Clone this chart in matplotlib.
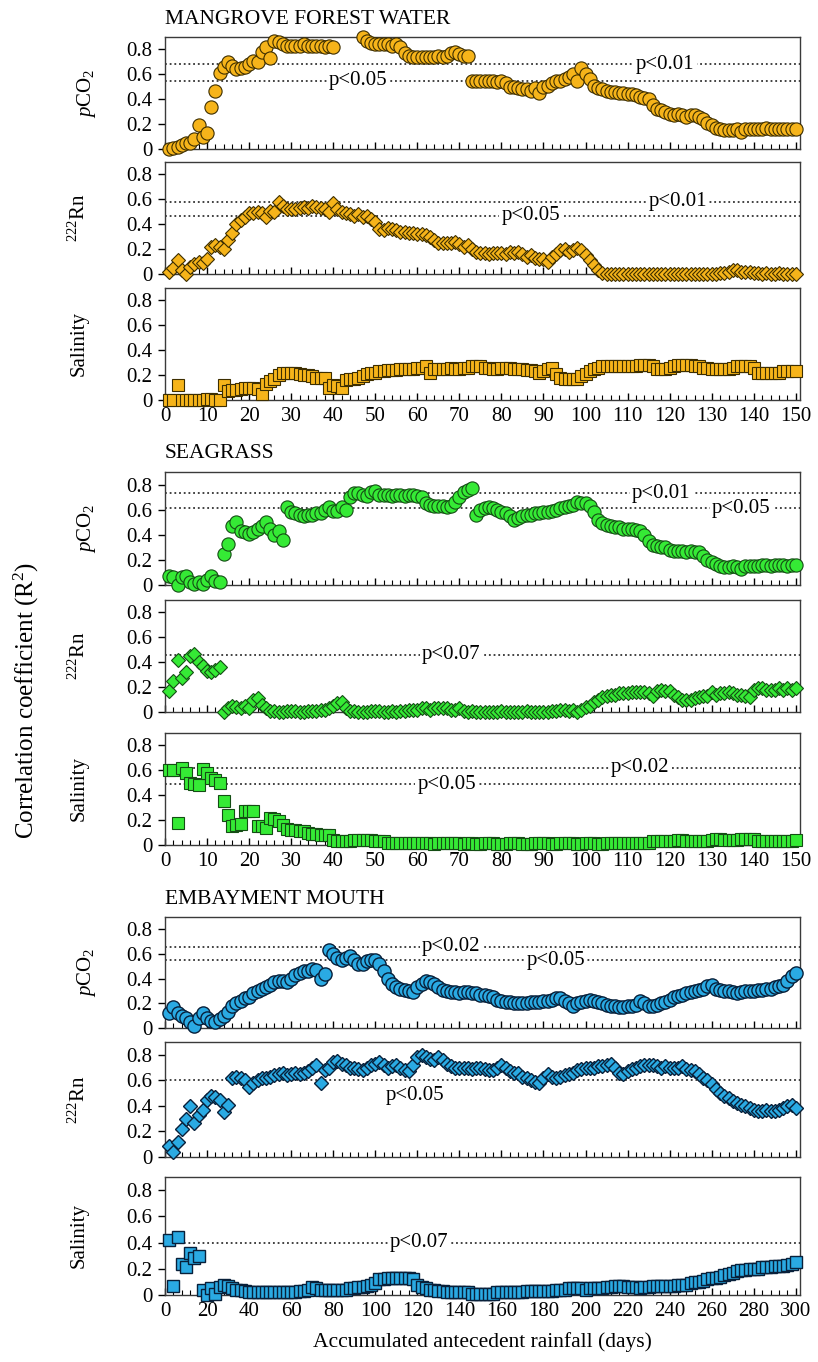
import numpy as np
import matplotlib
matplotlib.use('Agg')
import matplotlib.pyplot as plt
from matplotlib.ticker import MultipleLocator, FuncFormatter

plt.rcParams['font.family'] = ['Liberation Serif', 'DejaVu Serif']
plt.rcParams['mathtext.fontset'] = 'custom'
plt.rcParams['mathtext.rm'] = 'Liberation Serif'
plt.rcParams['mathtext.it'] = 'Liberation Serif:italic'

nan = np.nan

# days 1..150 (mangrove, seagrass) and 2..300 every 2nd day (embayment)
days_short = np.arange(1, 151)
days_long = np.arange(2, 301, 2)

# ---- MANGROVE FOREST WATER ----
mg_pco2 = [
    0.00, 0.01, 0.02, 0.03, 0.05, 0.05, 0.08, 0.19, 0.10, 0.13,
    0.34, 0.47, 0.61, 0.66, 0.70, 0.67, 0.64, 0.65, 0.66, 0.68,
    0.71, 0.70, 0.78, 0.82, 0.73, 0.87, 0.86, 0.84, 0.83, 0.83,
    0.83, 0.83, 0.84, 0.83, 0.83, 0.83, 0.83, 0.82, 0.83, 0.82,
    nan, nan, nan, nan, nan, nan, 0.90, 0.87, 0.85, 0.84,
    0.84, 0.84, 0.84, 0.83, 0.84, 0.82, 0.77, 0.75, 0.74, 0.74,
    0.74, 0.74, 0.74, 0.74, 0.75, 0.74, 0.75, 0.77, 0.78, 0.76,
    0.75, 0.75, 0.55, 0.55, 0.55, 0.55, 0.55, 0.55, 0.54, 0.55,
    0.53, 0.50, 0.50, 0.49, 0.48, 0.48, 0.47, 0.49, 0.45, 0.50,
    0.51, 0.53, 0.55, 0.55, 0.56, 0.58, 0.60, 0.55, 0.65, 0.60,
    0.56, 0.51, 0.49, 0.48, 0.47, 0.46, 0.46, 0.45, 0.45, 0.44,
    0.44, 0.43, 0.42, 0.41, 0.40, 0.35, 0.32, 0.31, 0.30, 0.28,
    0.27, 0.28, 0.27, 0.26, 0.27, 0.27, 0.26, 0.24, 0.21, 0.19,
    0.17, 0.16, 0.15, 0.15, 0.15, 0.16, 0.14, 0.16, 0.16, 0.16,
    0.16, 0.16, 0.17, 0.16, 0.16, 0.16, 0.16, 0.16, 0.16, 0.16,
]
mg_rn = [
    0.02, 0.05, 0.11, 0.03, 0.00, 0.06, 0.08, 0.10, 0.09, 0.12,
    0.22, 0.23, 0.22, 0.20, 0.27, 0.33, 0.40, 0.43, 0.46, 0.49,
    0.49, 0.50, 0.49, 0.46, 0.51, 0.50, 0.58, 0.55, 0.52, 0.52,
    0.52, 0.53, 0.54, 0.53, 0.55, 0.54, 0.53, 0.52, 0.50, 0.57,
    0.52, 0.50, 0.49, 0.48, 0.47, 0.48, 0.46, 0.47, 0.44, 0.42,
    0.36, 0.35, 0.37, 0.36, 0.35, 0.34, 0.34, 0.33, 0.33, 0.32,
    0.32, 0.31, 0.30, 0.27, 0.25, 0.25, 0.25, 0.25, 0.26, 0.24,
    0.22, 0.23, 0.20, 0.18, 0.17, 0.17, 0.16, 0.17, 0.17, 0.17,
    0.16, 0.18, 0.17, 0.18, 0.16, 0.14, 0.15, 0.13, 0.12, 0.12,
    0.10, 0.14, 0.16, 0.19, 0.20, 0.18, 0.19, 0.21, 0.19, 0.15,
    0.11, 0.07, 0.03, 0.01, 0.00, 0.00, 0.00, 0.00, 0.00, 0.00,
    0.00, 0.00, 0.00, 0.00, 0.00, 0.00, 0.00, 0.00, 0.00, 0.00,
    0.00, 0.00, 0.00, 0.00, 0.00, 0.00, 0.00, 0.00, 0.00, 0.00,
    0.00, 0.01, 0.01, 0.02, 0.03, 0.03, 0.02, 0.02, 0.02, 0.01,
    0.01, 0.00, 0.01, 0.00, 0.00, 0.01, 0.00, 0.00, 0.00, 0.00,
]
mg_sal = [
    0.00, 0.00, 0.12, 0.00, 0.00, 0.00, 0.00, 0.00, 0.00, 0.01,
    0.01, 0.00, 0.00, 0.12, 0.07, 0.08, 0.08, 0.09, 0.10, 0.10,
    0.10, 0.09, 0.05, 0.13, 0.15, 0.17, 0.20, 0.22, 0.22, 0.22,
    0.22, 0.21, 0.20, 0.20, 0.19, 0.18, 0.18, 0.18, 0.10, 0.12,
    0.11, 0.10, 0.16, 0.17, 0.17, 0.18, 0.19, 0.21, 0.22, 0.22,
    0.23, 0.23, 0.24, 0.24, 0.24, 0.25, 0.25, 0.25, 0.25, 0.26,
    0.26, 0.27, 0.22, 0.25, 0.25, 0.25, 0.25, 0.26, 0.25, 0.25,
    0.26, 0.26, 0.27, 0.27, 0.27, 0.26, 0.26, 0.25, 0.25, 0.26,
    0.26, 0.26, 0.25, 0.25, 0.25, 0.24, 0.24, 0.23, 0.22, 0.23,
    0.25, 0.26, 0.21, 0.18, 0.17, 0.17, 0.17, 0.17, 0.19, 0.21,
    0.23, 0.25, 0.26, 0.27, 0.27, 0.27, 0.27, 0.27, 0.27, 0.27,
    0.27, 0.27, 0.28, 0.28, 0.28, 0.27, 0.25, 0.25, 0.25, 0.26,
    0.27, 0.28, 0.28, 0.28, 0.28, 0.27, 0.27, 0.26, 0.26, 0.25,
    0.25, 0.25, 0.25, 0.25, 0.26, 0.27, 0.27, 0.27, 0.27, 0.26,
    0.22, 0.22, 0.22, 0.22, 0.22, 0.22, 0.23, 0.23, 0.23, 0.23,
]

# ---- SEAGRASS ----
sg_pco2 = [
    0.07, 0.06, 0.00, 0.06, 0.07, 0.02, 0.01, 0.02, 0.01, 0.04,
    0.07, 0.03, 0.02, 0.25, 0.33, 0.47, 0.50, 0.43, 0.42, 0.41,
    0.42, 0.45, 0.47, 0.50, 0.45, 0.40, 0.43, 0.36, 0.62, 0.58,
    0.57, 0.56, 0.55, 0.56, 0.56, 0.57, 0.57, 0.60, 0.62, 0.59,
    0.59, 0.62, 0.60, 0.70, 0.73, 0.73, 0.72, 0.71, 0.74, 0.75,
    0.72, 0.72, 0.72, 0.71, 0.72, 0.72, 0.71, 0.72, 0.72, 0.71,
    0.70, 0.65, 0.64, 0.63, 0.63, 0.63, 0.62, 0.63, 0.66, 0.70,
    0.74, 0.76, 0.77, 0.56, 0.60, 0.61, 0.62, 0.61, 0.60, 0.58,
    0.57, 0.55, 0.52, 0.53, 0.55, 0.56, 0.56, 0.57, 0.57, 0.58,
    0.58, 0.59, 0.60, 0.61, 0.62, 0.63, 0.64, 0.66, 0.65, 0.65,
    0.63, 0.58, 0.52, 0.49, 0.48, 0.47, 0.46, 0.46, 0.45, 0.45,
    0.45, 0.44, 0.43, 0.40, 0.35, 0.32, 0.31, 0.30, 0.30, 0.28,
    0.27, 0.27, 0.27, 0.26, 0.27, 0.26, 0.26, 0.23, 0.20, 0.18,
    0.17, 0.15, 0.14, 0.14, 0.15, 0.14, 0.13, 0.15, 0.15, 0.15,
    0.15, 0.16, 0.16, 0.15, 0.16, 0.16, 0.16, 0.15, 0.16, 0.16,
]
sg_rn = [
    0.17, 0.25, 0.42, 0.27, 0.32, 0.45, 0.47, 0.40, 0.37, 0.33,
    0.32, 0.34, 0.36, 0.00, 0.03, 0.05, 0.04, 0.03, 0.05, 0.03,
    0.10, 0.11, 0.06, 0.03, 0.01, 0.01, 0.00, 0.00, 0.01, 0.01,
    0.01, 0.00, 0.00, 0.01, 0.01, 0.01, 0.02, 0.02, 0.03, 0.05,
    0.07, 0.08, 0.03, 0.01, 0.01, 0.00, 0.00, 0.00, 0.01, 0.01,
    0.01, 0.00, 0.00, 0.01, 0.00, 0.01, 0.01, 0.02, 0.02, 0.02,
    0.03, 0.03, 0.02, 0.03, 0.03, 0.03, 0.03, 0.02, 0.02, 0.03,
    0.01, 0.00, 0.01, 0.00, 0.00, 0.00, 0.00, 0.00, 0.00, 0.01,
    0.00, 0.00, 0.00, 0.00, 0.00, 0.01, 0.00, 0.00, 0.00, 0.00,
    0.00, 0.01, 0.01, 0.02, 0.02, 0.01, 0.02, 0.00, 0.02, 0.04,
    0.05, 0.08, 0.10, 0.12, 0.13, 0.14, 0.14, 0.15, 0.15, 0.15,
    0.16, 0.16, 0.16, 0.16, 0.15, 0.13, 0.17, 0.18, 0.17, 0.17,
    0.14, 0.12, 0.10, 0.10, 0.10, 0.11, 0.12, 0.13, 0.13, 0.16,
    0.14, 0.15, 0.15, 0.16, 0.15, 0.14, 0.14, 0.13, 0.12, 0.18,
    0.19, 0.19, 0.18, 0.18, 0.18, 0.19, 0.18, 0.19, 0.18, 0.19,
]
sg_sal = [
    0.60, 0.60, 0.18, 0.62, 0.58, 0.50, 0.49, 0.48, 0.61, 0.58,
    0.54, 0.52, 0.50, 0.35, 0.24, 0.15, 0.16, 0.17, 0.27, 0.27,
    0.27, 0.15, 0.15, 0.14, 0.22, 0.21, 0.19, 0.16, 0.13, 0.12,
    0.12, 0.11, 0.11, 0.10, 0.09, 0.09, 0.08, 0.08, 0.08, 0.04,
    0.03, 0.03, 0.03, 0.03, 0.04, 0.04, 0.04, 0.04, 0.04, 0.03,
    0.03, 0.03, 0.02, 0.02, 0.02, 0.02, 0.02, 0.02, 0.02, 0.02,
    0.02, 0.02, 0.02, 0.01, 0.02, 0.02, 0.02, 0.02, 0.02, 0.02,
    0.01, 0.02, 0.02, 0.01, 0.01, 0.02, 0.02, 0.02, 0.01, 0.01,
    0.01, 0.02, 0.02, 0.02, 0.01, 0.01, 0.01, 0.02, 0.02, 0.02,
    0.02, 0.01, 0.01, 0.02, 0.02, 0.02, 0.02, 0.01, 0.01, 0.02,
    0.02, 0.02, 0.01, 0.01, 0.02, 0.02, 0.02, 0.02, 0.02, 0.02,
    0.02, 0.02, 0.02, 0.02, 0.02, 0.03, 0.03, 0.03, 0.03, 0.03,
    0.03, 0.04, 0.04, 0.03, 0.03, 0.03, 0.03, 0.03, 0.03, 0.04,
    0.05, 0.05, 0.04, 0.04, 0.04, 0.04, 0.05, 0.05, 0.05, 0.05,
    0.03, 0.03, 0.03, 0.03, 0.03, 0.03, 0.03, 0.03, 0.03, 0.04,
]

# ---- EMBAYMENT MOUTH (every 2nd day) ----
em_pco2 = [
    0.12, 0.17, 0.12, 0.10, 0.08, 0.05, 0.02, 0.08, 0.12, 0.08,
    0.06, 0.05, 0.07, 0.10, 0.13, 0.18, 0.20, 0.22, 0.24, 0.25,
    0.28, 0.30, 0.32, 0.33, 0.35, 0.37, 0.38, 0.38, 0.37, 0.40,
    0.43, 0.45, 0.46, 0.46, 0.48, 0.47, 0.40, 0.44, 0.63, 0.60,
    0.57, 0.55, 0.57, 0.58, 0.55, 0.52, 0.52, 0.54, 0.55, 0.55,
    0.52, 0.46, 0.40, 0.36, 0.33, 0.32, 0.31, 0.30, 0.29, 0.33,
    0.36, 0.38, 0.37, 0.36, 0.33, 0.31, 0.30, 0.29, 0.29, 0.28,
    0.29, 0.29, 0.28, 0.28, 0.27, 0.27, 0.26, 0.25, 0.23, 0.22,
    0.21, 0.21, 0.20, 0.20, 0.20, 0.20, 0.21, 0.21, 0.21, 0.22,
    0.22, 0.23, 0.24, 0.24, 0.22, 0.20, 0.18, 0.20, 0.21, 0.22,
    0.23, 0.22, 0.21, 0.20, 0.19, 0.18, 0.18, 0.17, 0.17, 0.18,
    0.18, 0.19, 0.22, 0.20, 0.18, 0.18, 0.19, 0.20, 0.21, 0.23,
    0.25, 0.26, 0.27, 0.28, 0.29, 0.30, 0.31, 0.32, 0.34, 0.35,
    0.32, 0.31, 0.30, 0.30, 0.29, 0.28, 0.29, 0.30, 0.30, 0.30,
    0.31, 0.31, 0.32, 0.32, 0.33, 0.34, 0.35, 0.38, 0.42, 0.45,
]
em_rn = [
    0.09, 0.04, 0.12, 0.22, 0.30, 0.40, 0.27, 0.33, 0.37, 0.45,
    0.48, 0.47, 0.45, 0.35, 0.41, 0.62, 0.63, 0.62, 0.60, 0.55,
    0.58, 0.60, 0.62, 0.62, 0.63, 0.64, 0.65, 0.66, 0.64, 0.65,
    0.66, 0.65, 0.66, 0.67, 0.70, 0.72, 0.58, 0.68, 0.70, 0.74,
    0.75, 0.73, 0.72, 0.70, 0.70, 0.69, 0.68, 0.70, 0.72, 0.73,
    0.74, 0.72, 0.70, 0.71, 0.72, 0.70, 0.68, 0.67, 0.72, 0.78,
    0.80, 0.78, 0.77, 0.76, 0.78, 0.76, 0.73, 0.71, 0.70, 0.70,
    0.70, 0.70, 0.69, 0.70, 0.70, 0.69, 0.68, 0.68, 0.70, 0.72,
    0.70, 0.67, 0.66, 0.66, 0.63, 0.62, 0.60, 0.59, 0.58, 0.62,
    0.65, 0.63, 0.62, 0.63, 0.64, 0.65, 0.66, 0.68, 0.69, 0.70,
    0.70, 0.70, 0.71, 0.71, 0.72, 0.73, 0.70, 0.66, 0.65, 0.67,
    0.69, 0.70, 0.71, 0.72, 0.72, 0.72, 0.71, 0.70, 0.71, 0.70,
    0.70, 0.70, 0.71, 0.69, 0.68, 0.67, 0.65, 0.62, 0.60, 0.57,
    0.53, 0.50, 0.48, 0.46, 0.44, 0.42, 0.41, 0.40, 0.38, 0.37,
    0.36, 0.36, 0.37, 0.36, 0.36, 0.37, 0.38, 0.40, 0.41, 0.38,
]
em_sal = [
    0.42, 0.07, 0.44, 0.24, 0.21, 0.32, 0.28, 0.30, 0.04, 0.00,
    0.05, 0.01, 0.06, 0.08, 0.07, 0.05, 0.04, 0.04, 0.03, 0.02,
    0.02, 0.02, 0.02, 0.02, 0.02, 0.02, 0.02, 0.02, 0.02, 0.02,
    0.02, 0.03, 0.03, 0.04, 0.06, 0.05, 0.04, 0.04, 0.04, 0.04,
    0.04, 0.04, 0.04, 0.05, 0.05, 0.06, 0.06, 0.07, 0.08, 0.09,
    0.12, 0.12, 0.13, 0.13, 0.13, 0.13, 0.13, 0.13, 0.12, 0.08,
    0.06, 0.05, 0.04, 0.04, 0.03, 0.03, 0.02, 0.02, 0.02, 0.02,
    0.02, 0.02, 0.01, 0.01, 0.01, 0.01, 0.01, 0.01, 0.02, 0.02,
    0.02, 0.02, 0.02, 0.02, 0.02, 0.03, 0.03, 0.03, 0.03, 0.03,
    0.03, 0.03, 0.04, 0.04, 0.04, 0.05, 0.05, 0.05, 0.05, 0.04,
    0.05, 0.05, 0.05, 0.05, 0.06, 0.06, 0.07, 0.07, 0.07, 0.06,
    0.06, 0.06, 0.05, 0.06, 0.06, 0.07, 0.07, 0.07, 0.07, 0.07,
    0.07, 0.08, 0.08, 0.08, 0.09, 0.10, 0.10, 0.11, 0.12, 0.13,
    0.13, 0.14, 0.15, 0.16, 0.17, 0.18, 0.19, 0.19, 0.20, 0.20,
    0.20, 0.21, 0.21, 0.21, 0.22, 0.22, 0.22, 0.23, 0.24, 0.25,
]

# significance thresholds: (R2 level, label, x of label)
mg_pco2_sig = [(0.68, 'p<0.01', 119), (0.55, 'p<0.05', 46)]
mg_rn_sig = [(0.58, 'p<0.01', 122), (0.47, 'p<0.05', 87)]
sg_pco2_sig = [(0.73, 'p<0.01', 118), (0.61, 'p<0.05', 137)]
sg_rn_sig = [(0.46, 'p<0.07', 68)]
sg_sal_sig = [(0.62, 'p<0.02', 113), (0.49, 'p<0.05', 67)]
em_pco2_sig = [(0.66, 'p<0.02', 136), (0.55, 'p<0.05', 186)]
em_rn_sig = [(0.60, 'p<0.05', 119)]
em_sal_sig = [(0.40, 'p<0.07', 121)]

W, H = 818, 1362
fig = plt.figure(figsize=(W / 100, H / 100), dpi=100)

left_px, right_px = 165, 800
tops = [37, 162, 288, 472, 600, 733, 917, 1042, 1177]
bots = [149, 274, 400, 585, 712, 845, 1028, 1157, 1295]

gold = ('#F6B41A', '#3d2e00')
green = ('#35EA35', '#144d14')
blue = ('#2AAAE3', '#08203a')

pco2_lab = r'$p$CO$_2$'
rn_lab = r'$^{222}$Rn'
sal_lab = 'Salinity'

panels = [
    (days_short, mg_pco2, 'o', 9.5, gold, mg_pco2_sig, pco2_lab),
    (days_short, mg_rn, 'D', 7.5, gold, mg_rn_sig, rn_lab),
    (days_short, mg_sal, 's', 8.0, gold, [], sal_lab),
    (days_short, sg_pco2, 'o', 9.5, green, sg_pco2_sig, pco2_lab),
    (days_short, sg_rn, 'D', 7.5, green, sg_rn_sig, rn_lab),
    (days_short, sg_sal, 's', 8.0, green, sg_sal_sig, sal_lab),
    (days_long, em_pco2, 'o', 9.5, blue, em_pco2_sig, pco2_lab),
    (days_long, em_rn, 'D', 7.5, blue, em_rn_sig, rn_lab),
    (days_long, em_sal, 's', 8.0, blue, em_sal_sig, sal_lab),
]
group_titles = {0: 'MANGROVE FOREST WATER', 3: 'SEAGRASS', 6: 'EMBAYMENT MOUTH'}

yfmt = FuncFormatter(lambda v, p: '0' if abs(v) < 1e-9 else f'{v:.1f}')

for i, (xs, ys, mk, ms, (fc, ec), sig, ylab) in enumerate(panels):
    rect = [left_px / W, 1 - bots[i] / H, (right_px - left_px) / W, (bots[i] - tops[i]) / H]
    ax = fig.add_axes(rect)
    long_x = i >= 6
    ax.set_xlim(0, 302 if long_x else 151)
    ax.set_ylim(0, 0.9)

    ax.plot(xs, ys, linestyle='none', marker=mk, markersize=ms, markerfacecolor=fc,
            markeredgecolor=ec, markeredgewidth=1.0 if long_x else 0.8,
            clip_on=False, zorder=3)

    for lev, txt, xt in sig:
        ax.axhline(lev, color='#333333', linestyle=(0, (1, 1.6)), linewidth=1.3, zorder=1)
        if i == 7:
            ax.text(xt, 0.48, txt, fontsize=15, ha='center', va='center', zorder=2)
        else:
            ax.text(xt, lev, txt, fontsize=15, ha='center', va='center', zorder=2,
                    bbox=dict(facecolor='white', edgecolor='none', pad=1.5))

    ax.set_yticks([0, 0.2, 0.4, 0.6, 0.8])
    ax.yaxis.set_major_formatter(yfmt)
    ax.xaxis.set_major_locator(MultipleLocator(20 if long_x else 10))
    ax.xaxis.set_minor_locator(MultipleLocator(4 if long_x else 2))
    ax.tick_params(axis='y', direction='out', length=5, width=1, labelsize=15, pad=4)
    ax.tick_params(axis='x', which='major', direction='in', length=5, width=1,
                   labelsize=15, pad=5)
    ax.tick_params(axis='x', which='minor', direction='in', length=3.5, width=0.8)
    if i % 3 != 2:
        ax.tick_params(axis='x', labelbottom=False)
    for s in ax.spines.values():
        s.set_color('#3a3a3a')
        s.set_linewidth(1.0)

    yc = (tops[i] + bots[i]) / 2
    xl = 86 if i % 3 == 0 else 79
    fig.text(xl / W, 1 - yc / H, ylab, rotation=90, ha='center', va='center', fontsize=15)

    if i in group_titles:
        ax.text(0, 1 + 18 / (bots[i] - tops[i]), group_titles[i], transform=ax.transAxes,
                fontsize=15.5, ha='left', va='center')

fig.text(26 / W, 1 - 700 / H, r'Correlation coefficient (R$^2$)', rotation=90,
         ha='center', va='center', fontsize=18)
fig.text((left_px + right_px) / 2 / W, 1 - 1342 / H, 'Accumulated antecedent rainfall (days)',
         ha='center', va='center', fontsize=15.5)

fig.savefig('out.png', dpi=100)
